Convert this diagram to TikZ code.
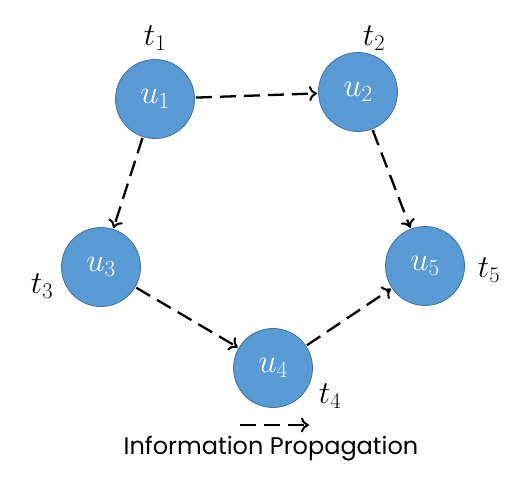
\RequirePackage{fix-cm}
\documentclass[tikz,border=0pt]{standalone}
\usepackage{fontspec}
\setsansfont{Poppins}
\usetikzlibrary{arrows.meta}
\definecolor{nodefill}{HTML}{5B9BD5}
\definecolor{nodeline}{HTML}{41719C}
\tikzset{
  user/.style={circle, fill=nodefill, draw=nodeline, line width=0.8pt, minimum size=79pt, inner sep=0pt, text=white, font=\fontsize{33}{38}\selectfont},
  tlabel/.style={font=\fontsize{32}{38}\selectfont, inner sep=0pt},
  prop/.style={draw=black, line width=2.3pt, dash pattern=on 16pt off 8pt, -{To[length=8pt,width=15pt,line width=2pt]}, shorten <=1pt, shorten >=1pt},
}
\begin{document}
\begin{tikzpicture}[x=1pt,y=-1pt]
\useasboundingbox (0,0) rectangle (523,481);
\node[user] (u1) at (155,99) {$u_1$};
\node[user] (u2) at (358,92) {$u_2$};
\node[user] (u3) at (101,267) {$u_3$};
\node[user] (u4) at (273,368) {$u_4$};
\node[user] (u5) at (425,266) {$u_5$};
\node[tlabel] (t1) at (155,38) {$t_1$};
\node[tlabel] (t2) at (374,38) {$t_2$};
\node[tlabel] (t3) at (42,286) {$t_3$};
\node[tlabel] (t4) at (330,396) {$t_4$};
\node[tlabel] (t5) at (489,270) {$t_5$};
\draw[prop] (u1) -- (u2);
\draw[prop] (u1) -- (u3);
\draw[prop] (u2) -- (u5);
\draw[prop] (u3) -- (u4);
\draw[prop] (u4) -- (u5);
\coordinate (la) at (240,425);
\coordinate (lb) at (310,425);
\draw[prop, shorten <=0pt] (la) -- (lb);
\node[font=\sffamily\fontsize{24}{28}\selectfont, inner sep=0pt] (legend) at (271,449) {Information Propagation};
\end{tikzpicture}
\end{document}
